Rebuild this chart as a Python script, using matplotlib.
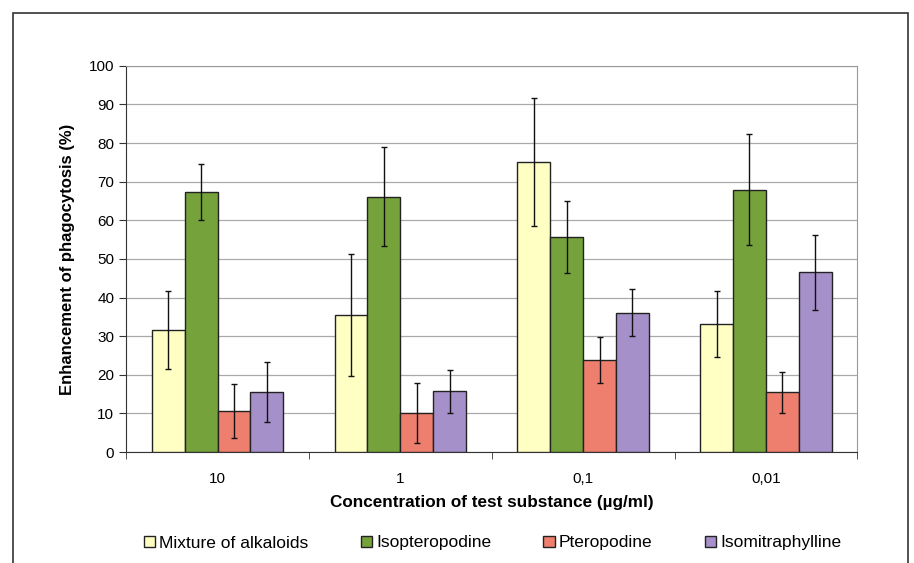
import numpy as np
import matplotlib.pyplot as plt
from matplotlib.patches import Rectangle

plt.rcParams['font.family'] = ['Liberation Sans', 'DejaVu Sans']

categories = ['10', '1', '0,1', '0,01']
series = ['Mixture of alkaloids', 'Isopteropodine', 'Pteropodine', 'Isomitraphylline']
mixture = [31.6, 35.5, 75.1, 33.2]
mixture_err = [10.0, 15.7, 16.5, 8.6]
isopteropodine = [67.3, 66.1, 55.6, 67.9]
isopteropodine_err = [7.3, 12.8, 9.3, 14.4]
pteropodine = [10.7, 10.2, 23.8, 15.5]
pteropodine_err = [7.0, 7.8, 6.0, 5.3]
isomitraphylline = [15.6, 15.7, 36.1, 46.6]
isomitraphylline_err = [7.8, 5.5, 6.1, 9.7]

values = [mixture, isopteropodine, pteropodine, isomitraphylline]
errors = [mixture_err, isopteropodine_err, pteropodine_err, isomitraphylline_err]
colors = ['#FFFFC4', '#76A23C', '#EE7F6E', '#A690CA']

fig = plt.figure(figsize=(9.14, 5.63), dpi=100)
ax = fig.add_axes([0.138, 0.197, 0.800, 0.686])

# outer frame (bottom edge is cut off in the reference)
fig.patches.append(Rectangle((13 / 914, -0.05), 895 / 914, 1.05 - 13 / 563,
                             transform=fig.transFigure, fill=False,
                             edgecolor='#333333', linewidth=1.2))

x = np.arange(len(categories))
width = 0.18
for i, (vals, errs) in enumerate(zip(values, errors)):
    pos = x + (i - 1.5) * width
    ax.bar(pos, vals, width, color=colors[i], edgecolor='#222222', linewidth=1.0,
           label=series[i], zorder=3)
    ax.errorbar(pos, vals, yerr=errs, fmt='none', ecolor='#111111',
                elinewidth=1.0, capsize=2.5, capthick=1.0, zorder=4)

ax.set_xlim(-0.5, len(categories) - 0.5)
ax.set_ylim(0, 100)
ax.set_yticks(np.arange(0, 101, 10))
ax.yaxis.grid(True, color='#AAAAAA', linewidth=0.9, zorder=0)
ax.set_axisbelow(True)

ax.set_xticks(x)
ax.set_xticklabels(categories, fontsize=11)
ax.set_xticks(np.arange(-0.5, len(categories), 1.0), minor=True)
ax.tick_params(axis='x', which='major', length=0, pad=14)
ax.tick_params(axis='x', which='minor', length=5, direction='out', color='#333333')
ax.tick_params(axis='y', length=5, direction='out', labelsize=11, color='#333333')

for s in ['top', 'right']:
    ax.spines[s].set_color('#999999')
for s in ['left', 'bottom']:
    ax.spines[s].set_color('#333333')

ax.set_ylabel('Enhancement of phagocytosis (%)', fontsize=12, fontweight='bold', labelpad=10)
ax.set_xlabel('Concentration of test substance (µg/ml)', fontsize=12.3, fontweight='bold', labelpad=7)

fig.legend(loc='center', bbox_to_anchor=(492.5 / 914, 1 - 543 / 563), ncol=4, frameon=False,
           fontsize=12.5, handlelength=0.65, handleheight=0.65, handletextpad=0.25,
           columnspacing=3.0, borderpad=0)

fig.savefig('out.png', dpi=100)
